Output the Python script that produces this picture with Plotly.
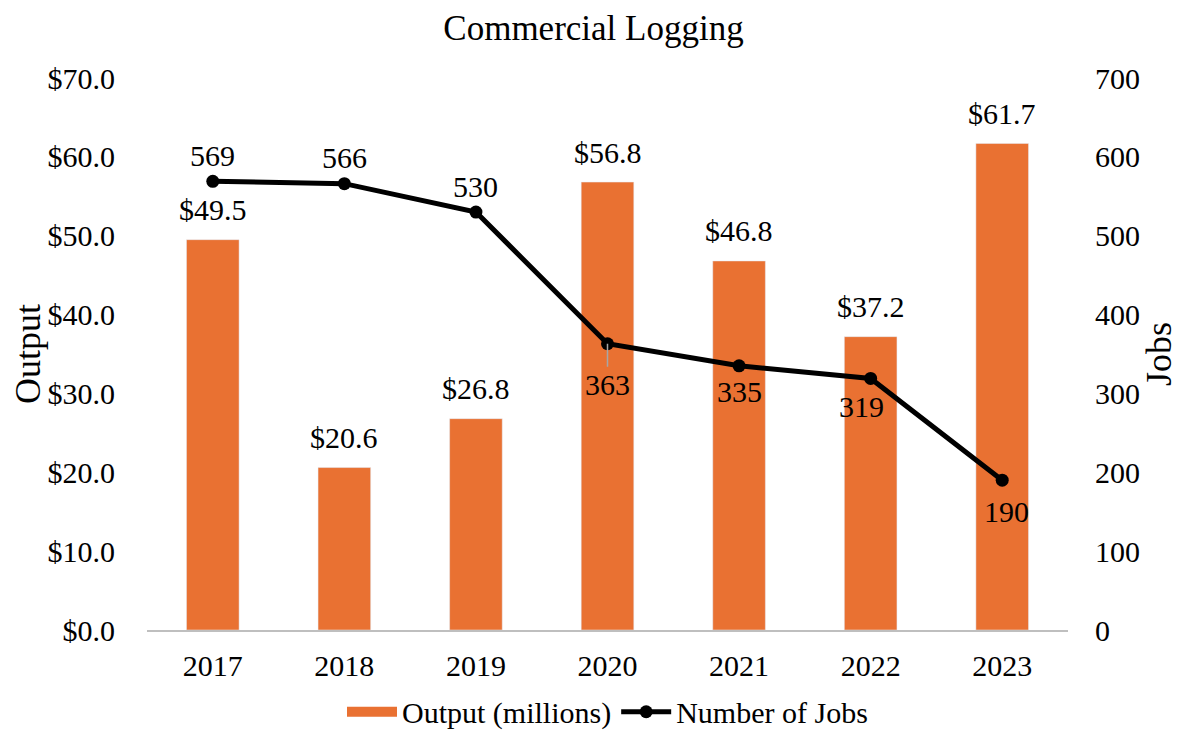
import plotly.graph_objects as go

years = ['2017', '2018', '2019', '2020', '2021', '2022', '2023']
output_millions = [49.5, 20.6, 26.8, 56.8, 46.8, 37.2, 61.7]
jobs = [569, 566, 530, 363, 335, 319, 190]

# label placement (pixels above/below the point) and leader line colour
job_label_dy = [26, 26, 26, -41, -26, -28, -31]
job_label_dx = [0, 0, 0, 0, 0, -9, 4]
job_leader = ['rgba(0,0,0,0)'] * 3 + ['#A6A6A6'] + ['rgba(0,0,0,0)'] * 3

FONT = 'Liberation Serif'
ORANGE = '#E97132'
FS = 30

fig = go.Figure()

fig.add_trace(go.Bar(
    x=years,
    y=output_millions,
    name='Output (millions)',
    marker_color=ORANGE,
    showlegend=False,
    cliponaxis=False
))

# legend entry drawn as a wide swatch, like the reference
fig.add_trace(go.Scatter(
    x=[years[0]], y=[None], mode='lines', name='Output (millions)',
    line=dict(color=ORANGE, width=13)
))

fig.add_trace(go.Scatter(
    x=years,
    y=jobs,
    name='Number of Jobs',
    mode='lines+markers',
    line=dict(color='black', width=5),
    marker=dict(color='black', size=13),
    yaxis='y2',
    cliponaxis=False
))

# data labels (x given as category index so '2017' is not read as a number)
for i, v in enumerate(output_millions):
    fig.add_annotation(x=i, y=v, yref='y', text='$' + format(v, '.1f'),
                       showarrow=False, yshift=30, font=dict(size=FS))

for i, (v, dy, dx, lc) in enumerate(zip(jobs, job_label_dy, job_label_dx, job_leader)):
    fig.add_annotation(x=i, y=v, yref='y2', text=str(v), font=dict(size=FS),
                       showarrow=True, ax=dx, ay=-dy, arrowhead=0, arrowwidth=1.5,
                       arrowcolor=lc, standoff=0, startstandoff=0)

fig.update_layout(
    width=1171,
    height=724,
    plot_bgcolor='white',
    paper_bgcolor='white',
    font=dict(family=FONT, size=FS, color='black'),
    title=dict(text='Commercial Logging', x=0.5, xanchor='center', y=0.973, yanchor='middle',
               font=dict(size=35)),
    margin=dict(l=139, r=111, t=70, b=102),
    bargap=0.6,
    xaxis=dict(type='category', range=[-0.5, len(years) - 0.5], showline=True,
               linecolor='#BFBFBF', linewidth=1.5, ticks='', showgrid=False,
               ticklabelstandoff=8, automargin=False),
    yaxis=dict(title=dict(text='Output', standoff=10), range=[0, 70], dtick=10, tickprefix='$',
               tickformat='.1f', showgrid=False, zeroline=False, ticks='',
               ticklabelstandoff=31, automargin=False),
    yaxis2=dict(title=dict(text='Jobs', standoff=12), range=[0, 700], dtick=100, overlaying='y',
                side='right', showgrid=False, zeroline=False, ticks='',
                ticklabelstandoff=26, automargin=False),
    legend=dict(orientation='h', x=0.5, xanchor='center', yref='container', y=0.028,
                yanchor='middle', font=dict(size=FS), itemwidth=50, tracegroupgap=0),
    showlegend=True
)

fig.write_html('out.html')
